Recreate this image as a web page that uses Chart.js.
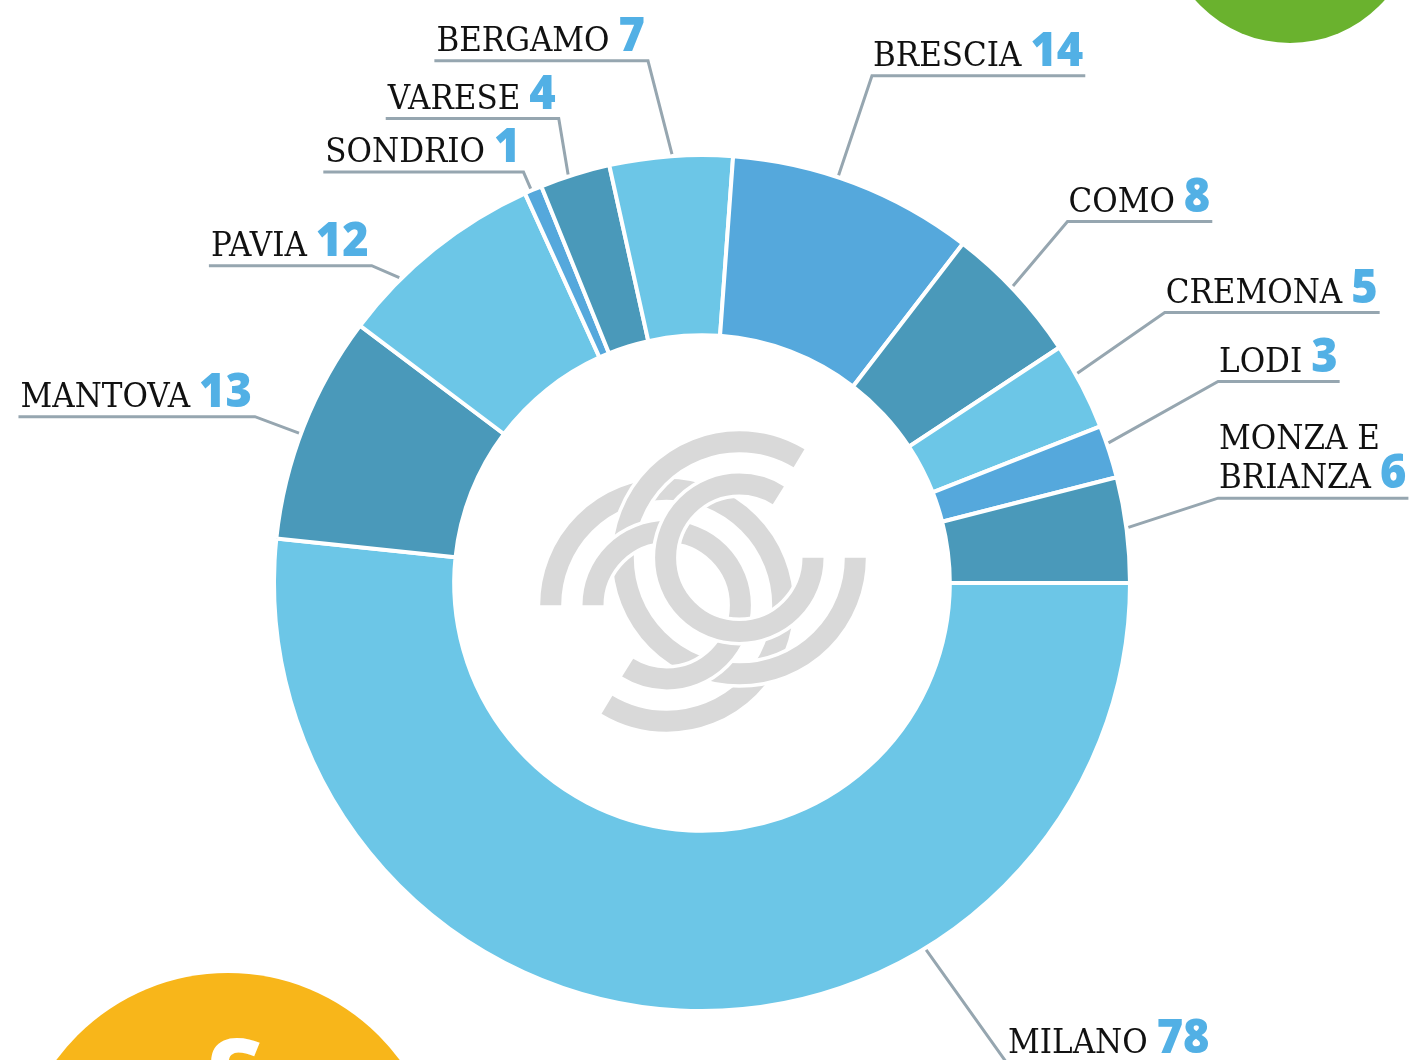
<!DOCTYPE html>
<html>
<head>
<meta charset="utf-8">
<script src="https://cdn.jsdelivr.net/npm/chart.js@4.4.0/dist/chart.umd.min.js"></script>
<style>
html, body { margin: 0; padding: 0; background: #fff; }
#wrap { width: 1412px; height: 1060px; position: relative; }
</style>
</head>
<body>
<div id="wrap"><canvas id="donut_chart"></canvas></div>
<script>
// provinces, clockwise from 3 o'clock
var province = ['MILANO', 'MANTOVA', 'PAVIA', 'SONDRIO', 'VARESE', 'BERGAMO', 'BRESCIA', 'COMO', 'CREMONA', 'LODI', 'MONZA E BRIANZA'];
var labelLines = [['MILANO'], ['MANTOVA'], ['PAVIA'], ['SONDRIO'], ['VARESE'], ['BERGAMO'], ['BRESCIA'], ['COMO'], ['CREMONA'], ['LODI'], ['MONZA E', 'BRIANZA']];
var counts = [78, 13, 12, 1, 4, 7, 14, 8, 5, 3, 6];

var LIGHT = '#6cc6e7', DARK = '#4a99ba', MID = '#55a8dc';
var sliceColors = [LIGHT, DARK, LIGHT, MID, DARK, LIGHT, MID, DARK, LIGHT, MID, DARK];

// where each callout leaves its slice (t = fraction of the slice), elbow radius and angle tweak
var labelLayout = [
	{ t: 0.315, r: 569, da: -1.0, side: 'right' },
	{ t: 0.466, r: 477, da: 0, side: 'left' },
	{ t: 0.29, r: 458, da: -1.4, side: 'left' },
	{ t: 0.4, r: 448, da: 0, side: 'left' },
	{ t: 0.41, r: 486, da: 1.0, side: 'left' },
	{ t: 0.51, r: 525, da: -1.9, side: 'left' },
	{ t: 0.43, r: 535, da: 0, side: 'right' },
	{ t: 0.46, r: 514, da: -1.0, side: 'right' },
	{ t: 0.35, r: 536, da: -1.1, side: 'right' },
	{ t: 0.34, r: 554, da: -2.3, side: 'right' },
	{ t: 0.48, r: 523, da: -1.9, side: 'right' }
];

var nameFont = '33px "DejaVu Serif"';
var numFont = '800 48px "Open Sans"';
var squeeze = 0.94;
var lineGrey = '#96a6b0';

function squeezedText(ctx, txt, x, y) {
	ctx.save();
	ctx.translate(x, y);
	ctx.scale(squeeze, 1);
	ctx.fillText(txt, 0, 0);
	ctx.restore();
}

var decorPlugin = {
	id: 'decor',
	beforeDraw: function (chart) {
		var ctx = chart.ctx;
		ctx.save();
		ctx.fillStyle = '#6ab22e';
		ctx.beginPath();
		ctx.arc(1290, -83, 126, 0, Math.PI * 2);
		ctx.fill();
		ctx.fillStyle = '#f8b61a';
		ctx.beginPath();
		ctx.arc(228, 1186, 213, 0, Math.PI * 2);
		ctx.fill();
		ctx.fillStyle = '#fff';
		ctx.font = 'bold 120px "Open Sans"';
		ctx.textAlign = 'center';
		ctx.textBaseline = 'alphabetic';
		ctx.fillText('£', 230, 1125);
		ctx.restore();
	},
	afterDatasetsDraw: function (chart) {
		// grey logo in the hole
		var ctx = chart.ctx;
		var arc0 = chart.getDatasetMeta(0).data[0];
		var cx = arc0.x + 1, cy = arc0.y - 1.5;
		var rings = [
			{ dx: -36.3, dy: 23.7, r: 116, from: 180, sweep: 301 },
			{ dx: 36.3, dy: -23.7, r: 116, from: 0, sweep: 301 },
			{ dx: -36.3, dy: 23.7, r: 73.7, from: 180, sweep: 302 },
			{ dx: 36.3, dy: -23.7, r: 73.7, from: 0, sweep: 302 }
		];
		ctx.save();
		ctx.lineCap = 'butt';
		rings.forEach(function (g) {
			var a0 = g.from * Math.PI / 180, a1 = (g.from + g.sweep) * Math.PI / 180;
			ctx.beginPath();
			ctx.arc(cx + g.dx, cy + g.dy, g.r, a0, a1);
			ctx.strokeStyle = '#fff';
			ctx.lineWidth = 28;
			ctx.stroke();
			ctx.beginPath();
			ctx.arc(cx + g.dx, cy + g.dy, g.r, a0, a1);
			ctx.strokeStyle = '#d9d9d9';
			ctx.lineWidth = 21;
			ctx.stroke();
		});
		ctx.restore();
	}
};

var calloutPlugin = {
	id: 'callouts',
	afterDraw: function (chart) {
		var ctx = chart.ctx;
		var meta = chart.getDatasetMeta(0);
		ctx.save();
		meta.data.forEach(function (arc, i) {
			var p = arc.getProps(['x', 'y', 'startAngle', 'endAngle', 'outerRadius'], true);
			var lay = labelLayout[i];
			var a = p.startAngle + (p.endAngle - p.startAngle) * lay.t;
			var sx = p.x + Math.cos(a) * (p.outerRadius + 2);
			var sy = p.y + Math.sin(a) * (p.outerRadius + 2);
			var ea = a + lay.da * Math.PI / 180;
			var ex = p.x + Math.cos(ea) * lay.r;
			var ey = p.y + Math.sin(ea) * lay.r;

			var lines = labelLines[i];
			var num = String(counts[i]);
			ctx.font = nameFont;
			var widths = lines.map(function (l) { return ctx.measureText(l).width * squeeze; });
			ctx.font = numFont;
			var numW = ctx.measureText(num).width * squeeze;
			var gap = 9;
			var lastW = widths[widths.length - 1] + gap + numW;
			var blockW = Math.max(lastW, Math.max.apply(null, widths));
			var left = lay.side === 'left' ? ex - 3 - blockW : ex + 1;
			var lineH = 39;
			var base = ey - 10;

			// leader + underline
			ctx.strokeStyle = lineGrey;
			ctx.lineWidth = 3;
			ctx.lineJoin = 'miter';
			ctx.beginPath();
			ctx.moveTo(sx, sy);
			ctx.lineTo(ex, ey);
			if (lay.side === 'left') ctx.lineTo(left - 2, ey);
			else ctx.lineTo(left + blockW + 2, ey);
			ctx.stroke();

			ctx.textAlign = 'left';
			ctx.textBaseline = 'alphabetic';
			for (var k = 0; k < lines.length; k++) {
				var y = base - (lines.length - 1 - k) * lineH;
				ctx.font = nameFont;
				ctx.fillStyle = '#111';
				squeezedText(ctx, lines[k], left, y);
				if (k === lines.length - 1) {
					ctx.font = numFont;
					ctx.fillStyle = '#52b0e5';
					squeezedText(ctx, num, left + widths[k] + gap, y);
				}
			}
		});
		ctx.restore();
	}
};

new Chart(document.getElementById('donut_chart').getContext('2d'), {
	type: 'doughnut',
	data: {
		labels: province,
		datasets: [{
			data: counts,
			backgroundColor: sliceColors,
			borderColor: '#ffffff',
			borderWidth: 4
		}]
	},
	options: {
		responsive: true,
		maintainAspectRatio: false,
		animation: false,
		rotation: 90,
		radius: 428,
		cutout: '57.9%',
		layout: { padding: { top: 106, right: 8, left: 0, bottom: 0 } },
		plugins: {
			legend: { display: false },
			tooltip: { enabled: false }
		}
	},
	plugins: [decorPlugin, calloutPlugin]
});
</script>
</body>
</html>
